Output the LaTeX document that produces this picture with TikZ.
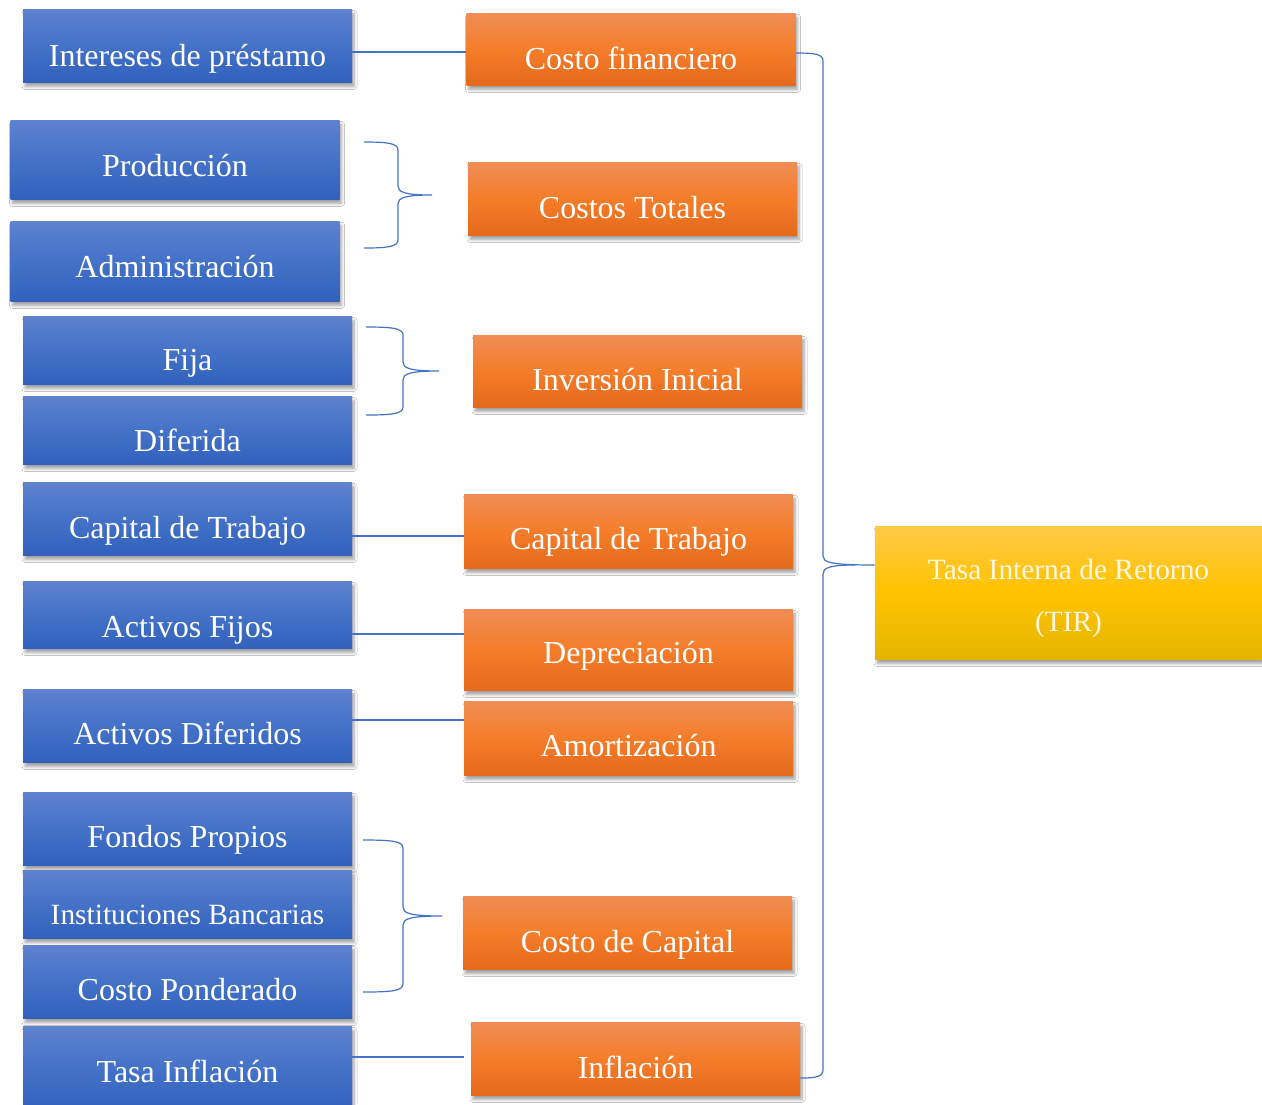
\documentclass[tikz,border=0pt]{standalone}
\usepackage{fontspec}
\setmainfont{Liberation Serif}
\usetikzlibrary{shadows.blur}

\definecolor{bluetop}{RGB}{94,130,206}
\definecolor{bluemid}{RGB}{68,114,200}
\definecolor{bluebot}{RGB}{49,97,188}
\definecolor{ortop}{RGB}{240,141,86}
\definecolor{ormid}{RGB}{244,125,42}
\definecolor{orbot}{RGB}{229,106,28}
\definecolor{yetop}{RGB}{255,201,72}
\definecolor{yemid}{RGB}{255,195,0}
\definecolor{yebot}{RGB}{228,181,0}
\definecolor{linkblue}{RGB}{68,114,196}
\definecolor{tirtext}{RGB}{255,248,226}

% curly bracket: end x, spine x, tip x, top y, middle y, bottom y
\newcommand\curlybracket[6]{%
  \draw[link] (#1,#4) .. controls (#2-12,#4) and (#2,#4+1) .. (#2,#4+8)
    -- (#2,#5-9) .. controls (#2,#5-3) and (#2+6,#5) .. (#3,#5)
    .. controls (#2+6,#5) and (#2,#5+3) .. (#2,#5+9)
    -- (#2,#6-8) .. controls (#2,#6-1) and (#2-12,#6) .. (#1,#6);}

\tikzset{
  box/.style={rectangle, draw=none, inner sep=0pt,
    blur shadow={shadow xshift=1pt, shadow yshift=-2.2pt,
      shadow blur steps=6, shadow opacity=38, shadow blur radius=1.5pt}},
  bluebox/.style={box, top color=bluetop, bottom color=bluebot, middle color=bluemid,
    minimum width=164.5pt},
  orangebox/.style={box, top color=ortop, bottom color=orbot, middle color=ormid,
    minimum width=164.5pt},
  yellowbox/.style={box, top color=yetop, bottom color=yebot, middle color=yemid},
  txt/.style={anchor=base, inner sep=0pt, text=white, font=\fontsize{16}{19}\selectfont},
  smalltxt/.style={txt, font=\fontsize{14.7}{17}\selectfont},
  link/.style={draw=linkblue, line width=0.6pt},
}

\begin{document}
\begin{tikzpicture}[x=0.5pt, y=-0.5pt]
  \fill[white] (0,0) rectangle (1262,1104);
  \useasboundingbox (0,0) rectangle (1262,1104);

  % left column: sources
  \node[bluebox, minimum height=36.5pt] (b1)  at (187.5,45.5) {};
  \node[bluebox, minimum height=39.5pt] (b2)  at (175,159.5) {};
  \node[bluebox, minimum height=40pt]   (b3)  at (175,261) {};
  \node[bluebox, minimum height=34pt]   (b4)  at (187.5,350) {};
  \node[bluebox, minimum height=34pt]   (b5)  at (187.5,430) {};
  \node[bluebox, minimum height=36.5pt] (b6)  at (187.5,518.5) {};
  \node[bluebox, minimum height=33.5pt] (b7)  at (187.5,614.5) {};
  \node[bluebox, minimum height=36.5pt] (b8)  at (187.5,725.5) {};
  \node[bluebox, minimum height=36.5pt] (b9)  at (187.5,828.5) {};
  \node[bluebox, minimum height=34pt]   (b10) at (187.5,904) {};
  \node[bluebox, minimum height=36.5pt] (b11) at (187.5,981.5) {};
  \node[bluebox, minimum height=42pt]   (b12) at (187.5,1068) {};

  \node[txt] at (187.5,66)   {Intereses de préstamo};
  \node[txt] at (175,176)    {Producción};
  \node[txt] at (175,277)    {Administración};
  \node[txt] at (187.5,370)  {Fija};
  \node[txt] at (187.5,451)  {Diferida};
  \node[txt] at (187.5,538)  {Capital de Trabajo};
  \node[txt] at (187.5,637)  {Activos Fijos};
  \node[txt] at (187.5,744)  {Activos Diferidos};
  \node[txt] at (187.5,847)  {Fondos Propios};
  \node[smalltxt] at (187.5,924) {Instituciones Bancarias};
  \node[txt] at (187.5,1000) {Costo Ponderado};
  \node[txt] at (187.5,1082) {Tasa Inflación};

  % middle column: components
  \node[orangebox, minimum height=36pt]   (o1) at (631,49) {};
  \node[orangebox, minimum height=36.5pt] (o2) at (632.5,198.5) {};
  \node[orangebox, minimum height=36pt]   (o3) at (637.5,371) {};
  \node[orangebox, minimum height=37pt]   (o4) at (628.5,531) {};
  \node[orangebox, minimum height=40.5pt] (o5) at (628.5,649.5) {};
  \node[orangebox, minimum height=37pt]   (o6) at (628.5,738) {};
  \node[orangebox, minimum height=36.5pt] (o7) at (627.5,932.5) {};
  \node[orangebox, minimum height=36.5pt] (o8) at (635.5,1058.5) {};

  \node[txt] at (631,69)     {Costo financiero};
  \node[txt] at (632.5,218)  {Costos Totales};
  \node[txt] at (637.5,390)  {Inversión Inicial};
  \node[txt] at (628.5,549)  {Capital de Trabajo};
  \node[txt] at (628.5,663)  {Depreciación};
  \node[txt] at (628.5,756)  {Amortización};
  \node[txt] at (627.5,952)  {Costo de Capital};
  \node[txt] at (635.5,1078) {Inflación};

  % result
  \node[yellowbox, minimum width=193.5pt, minimum height=66.5pt] (tir) at (1068.5,592.5) {};
  \node[smalltxt, text=tirtext] at (1068.5,579) {Tasa Interna de Retorno};
  \node[smalltxt, text=tirtext] at (1068.5,631) {(TIR)};

  % one-to-one links
  \draw[link] (b1.east |- 0,52)   -- (o1.west |- 0,52);
  \draw[link] (b6.east |- 0,536)  -- (o4.west |- 0,536);
  \draw[link] (b7.east |- 0,634)  -- (o5.west |- 0,634);
  \draw[link] (b8.east |- 0,720)  -- (o6.west |- 0,720);
  \draw[link] (b12.east |- 0,1057) -- ([xshift=-3.5pt]o8.west |- 0,1057);

  % grouping brackets
  \curlybracket{364}{398}{432}{142}{195}{248}
  \curlybracket{366}{403}{439}{327}{371}{415}
  \curlybracket{363}{403}{442}{840}{916}{992}

  % large bracket gathering every component into the TIR
  \draw[link] (o1.east |- 0,53) .. controls (815,53) and (823,54) .. (823,61)
    -- (823,556) .. controls (823,562) and (829,565) .. (tir.west |- 0,565);
  \draw[link] (o8.east |- 0,1078) .. controls (815,1078) and (823,1077) .. (823,1070)
    -- (823,574) .. controls (823,568) and (829,565) .. (855,565);
\end{tikzpicture}
\end{document}
